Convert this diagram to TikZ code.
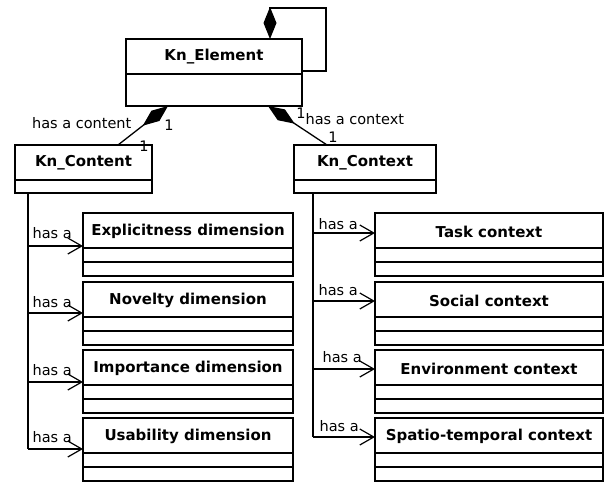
\documentclass[tikz,border=0pt]{standalone}
\usepackage{fontspec}
\setmainfont{DejaVu Sans}
\usetikzlibrary{arrows.meta,calc}
\begin{document}
\begin{tikzpicture}[x=1pt,y=-1pt,line width=1.3pt,
  cls/.style={draw,anchor=north west,inner sep=0pt,outer sep=0pt},
  ctitle/.style={font=\fontsize{15}{17}\selectfont\bfseries},
  lbl/.style={font=\fontsize{14.5}{16}\selectfont,inner sep=0pt},
  comp/.style={{Diamond[length=32pt,width=13pt,fill=black]}-},
  assoc/.style={-{Straight Barb[length=14pt,width=16pt,line width=1.2pt]}}]
\useasboundingbox (0,0) rectangle (606,482);
% Kn_Element
\node[cls,minimum width=176pt,minimum height=67pt] (elem) at (126,39) {};
\draw (126,74) -- (302,74);
\node[ctitle] (elemt) at (214,57) {Kn\_Element};
% Kn_Content
\node[cls,minimum width=137pt,minimum height=48pt] (cont) at (15,145) {};
\draw (15,180) -- (152,180);
\node[ctitle] (contt) at (83.5,163) {Kn\_Content};
% Kn_Context
\node[cls,minimum width=142pt,minimum height=48pt] (ctx) at (294,145) {};
\draw (294,180) -- (436,180);
\node[ctitle] (ctxt) at (365,163) {Kn\_Context};
% left dimension classes
\foreach \n/\t/\y in {d1/Explicitness dimension/213,d2/Novelty dimension/282,d3/Importance dimension/350,d4/Usability dimension/418}{
  \node[cls,minimum width=210pt,minimum height=63pt] (\n) at (83,\y) {};
  \draw (83,\y+35) -- (293,\y+35);
  \draw (83,\y+49) -- (293,\y+49);
  \node[ctitle] (\n t) at (188,\y+18.5) {\t};
}
% right context classes
\foreach \n/\t/\y in {c1/Task context/213,c2/Social context/282,c3/Environment context/350,c4/Spatio-temporal context/418}{
  \node[cls,minimum width=228pt,minimum height=63pt] (\n) at (375,\y) {};
  \draw (375,\y+35) -- (603,\y+35);
  \draw (375,\y+49) -- (603,\y+49);
  \node[ctitle] (\n t) at (489,\y+18.5) {\t};
}
% self composition
\coordinate (sA) at ($(elem.north west)+(144,0)$);
\coordinate (sB) at ($(elem.north east)+(24,0)$);
\draw[comp] (sA) -- (sA |- 0,8) -- (sB |- 0,8) -- (sB |- 0,71) -- (elem.east |- 0,71);
% compositions
\coordinate (eL) at ($(elem.south west)+(42,0)$);
\coordinate (cL) at ($(cont.north west)+(103,0)$);
\draw[comp] (eL) -- (cL);
\coordinate (eR) at ($(elem.south west)+(142,0)$);
\coordinate (cR) at ($(ctx.north west)+(33,0)$);
\draw[comp] (eR) -- (cR);
\node[lbl,anchor=east] (lhc) at (132,123) {has a content};
\node[lbl] (l1a) at (169,125) {1};
\node[lbl] (l1b) at (144,146) {1};
\node[lbl] (l1c) at (301,113) {1};
\node[lbl,anchor=west] (lhx) at (305,119) {has a context};
\node[lbl] (l1d) at (333,137) {1};
% left associations
\coordinate (lt) at ($(cont.south west)+(13,0)$);
\draw (lt) -- (lt |- 0,449);
\foreach \n/\y in {d1/246,d2/313,d3/382,d4/449}{
  \draw[assoc] (lt |- 0,\y) -- (\n.west |- 0,\y);
}
\foreach \y in {233,302,370,437}{
  \node[lbl,anchor=west] at (32,\y) {has a};
}
% right associations
\coordinate (rt) at ($(ctx.south west)+(19,0)$);
\draw (rt) -- (rt |- 0,437);
\foreach \n/\y in {c1/233,c2/301,c3/369,c4/437}{
  \draw[assoc] (rt |- 0,\y) -- (\n.west |- 0,\y);
}
\node[lbl,anchor=west] (h1) at (318,224) {has a};
\node[lbl,anchor=west] (h2) at (318,290) {has a};
\node[lbl,anchor=west] (h3) at (322,357) {has a};
\node[lbl,anchor=west] (h4) at (319,426) {has a};
\end{tikzpicture}
\end{document}
